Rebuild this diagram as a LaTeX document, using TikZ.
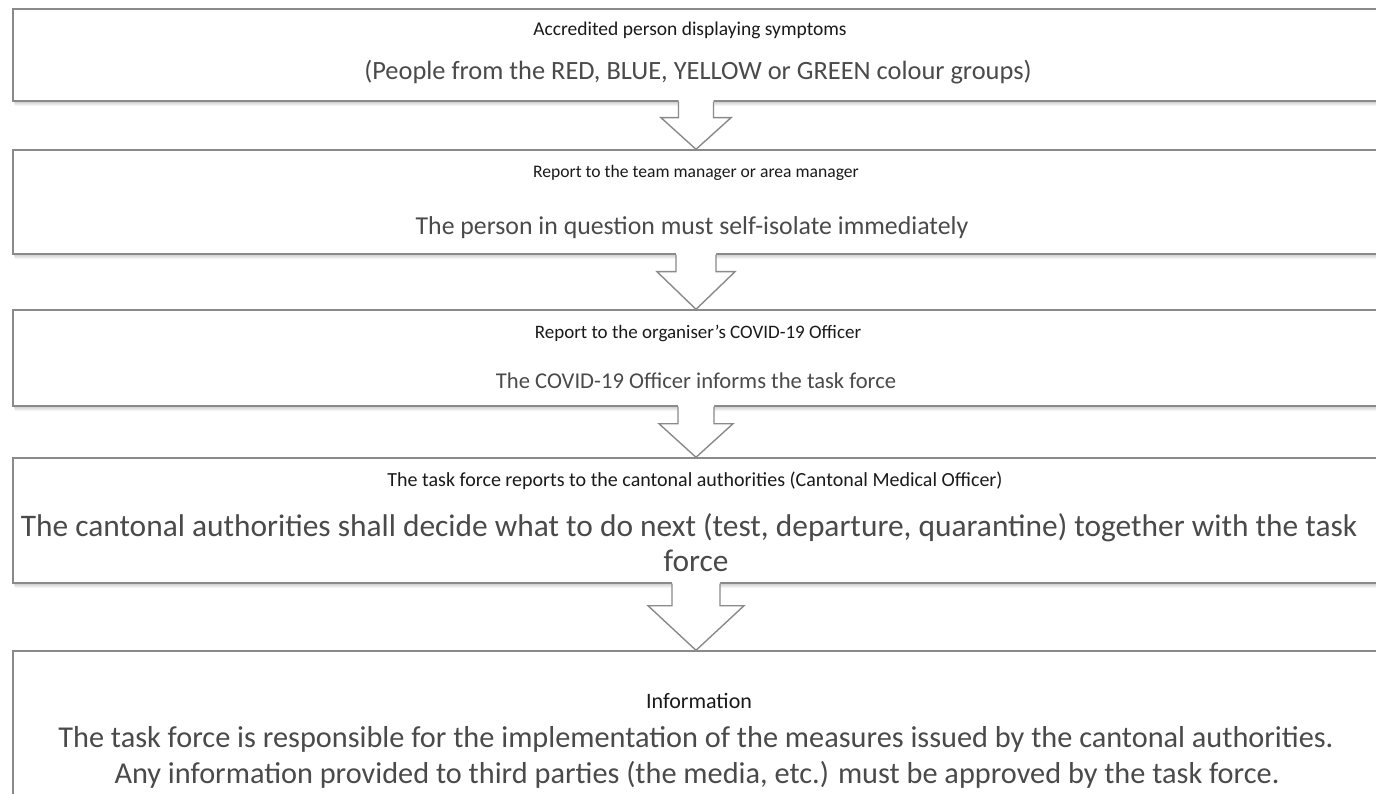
\documentclass[tikz,border=0pt]{standalone}
\usepackage{fontspec}
\setmainfont{Carlito}
\usetikzlibrary{calc}
\definecolor{boxline}{HTML}{8A8A8A}
\definecolor{titletext}{HTML}{1A1A1A}
\definecolor{bodytext}{HTML}{4A4A4A}
\tikzset{
  box/.style={draw=boxline, line width=1.4pt, fill=white, minimum width=1366pt, inner sep=0pt},
  ttl/.style={anchor=base, text=titletext, inner sep=0pt},
  bdy/.style={anchor=base, text=bodytext, inner sep=0pt},
}
\newcommand\fs[1]{\fontsize{#1}{#1}\selectfont}
% soft shadow below a node
\newcommand\nodeshadow[1]{%
  \foreach \k in {1,...,5}{%
    \fill[black, opacity=0.045] ($(#1.south west)+(0.4*\k,0.9*\k)$) rectangle ($(#1.north east)+(0.4*\k,0.9*\k)$);
  }%
}
% block arrow: from node, to node, shaft half width, head half width, shaft length
\newcommand\blkarrow[5]{%
  \coordinate (A) at (#1.south);
  \coordinate (B) at (#2.north);
  \foreach \k in {1,...,5}{%
    \fill[black, opacity=0.045, shift={(0.4*\k,0.9*\k)}]
      ($(A)+(-#3,0)$) -- ($(A)+(-#3,#5)$) -- ($(A)+(-#4,#5)$) -- (B) -- ($(A)+(#4,#5)$) -- ($(A)+(#3,#5)$) -- ($(A)+(#3,0)$) -- cycle;
  }
  \fill[white] ($(A)+(-#3,-2)$) -- ($(A)+(-#3,#5)$) -- ($(A)+(-#4,#5)$) -- (B) -- ($(A)+(#4,#5)$) -- ($(A)+(#3,#5)$) -- ($(A)+(#3,-2)$) -- cycle;
  \draw[boxline, line width=1.4pt, line join=miter] ($(A)+(-#3,0)$) -- ($(A)+(-#3,#5)$) -- ($(A)+(-#4,#5)$) -- (B) -- ($(A)+(#4,#5)$) -- ($(A)+(#3,#5)$) -- ($(A)+(#3,0)$);
}
\begin{document}
\begin{tikzpicture}[x=1pt,y=-1pt]
\useasboundingbox (0,0) rectangle (1376,794);
\clip (0,0) rectangle (1376,794);
\fill[white] (0,0) rectangle (1376,794);
% shadows (use the box geometry)
\path (696,55) coordinate (c1) (696,202) coordinate (c2) (696,358) coordinate (c3) (696,520.5) coordinate (c4) (696,738) coordinate (c5);
\node[minimum width=1366pt, minimum height=92pt, inner sep=0pt] (g1) at (c1) {};
\node[minimum width=1366pt, minimum height=104pt, inner sep=0pt] (g2) at (c2) {};
\node[minimum width=1366pt, minimum height=96pt, inner sep=0pt] (g3) at (c3) {};
\node[minimum width=1366pt, minimum height=125pt, inner sep=0pt] (g4) at (c4) {};
\node[minimum width=1366pt, minimum height=174pt, inner sep=0pt] (g5) at (c5) {};
\nodeshadow{g1}\nodeshadow{g2}\nodeshadow{g3}\nodeshadow{g4}\nodeshadow{g5}
% boxes
\node[box, minimum height=92pt] (b1) at (c1) {};
\node[box, minimum height=104pt] (b2) at (c2) {};
\node[box, minimum height=96pt] (b3) at (c3) {};
\node[box, minimum height=125pt] (b4) at (c4) {};
\node[box, minimum height=174pt] (b5) at (c5) {};
% arrows
\blkarrow{b1}{b2}{17.5}{35}{16}
\blkarrow{b2}{b3}{20}{39}{17}
\blkarrow{b3}{b4}{18}{37}{17}
\blkarrow{b4}{b5}{24}{48}{22}
% texts
\node[ttl, font=\fs{19.5}] (t1) at (690,36) {Accredited person displaying symptoms};
\node[bdy, font=\fs{26.4}] (s1) at (698,80) {(People from the RED, BLUE, YELLOW or GREEN colour groups)};
\node[ttl, font=\fs{17.6}] (t2) at (696,178) {Report to the team manager or area manager};
\node[bdy, font=\fs{25.8}] (s2) at (692,234.5) {The person in question must self-isolate immediately};
\node[ttl, font=\fs{19}] (t3) at (698,338) {Report to the organiser’s COVID-19 Officer};
\node[bdy, font=\fs{22.6}] (s3) at (696,388) {The COVID-19 Officer informs the task force};
\node[ttl, font=\fs{20}] (t4) at (695,486) {The task force reports to the cantonal authorities (Cantonal Medical Officer)};
\node[bdy, font=\fs{31.4}] (s4a) at (689,536) {The cantonal authorities shall decide what to do next (test, departure, quarantine) together with the task};
\node[bdy, font=\fs{31.4}] (s4b) at (696,571) {force};
\node[ttl, font=\fs{22}] (t5) at (699,708) {Information};
\node[bdy, font=\fs{30.3}] (s5a) at (696,747) {The task force is responsible for the implementation of the measures issued by the cantonal authorities.};
\node[bdy, font=\fs{30.3}] (s5b) at (697,783) {Any information provided to third parties (the media, etc.) must be approved by the task force.};
\end{tikzpicture}
\end{document}
